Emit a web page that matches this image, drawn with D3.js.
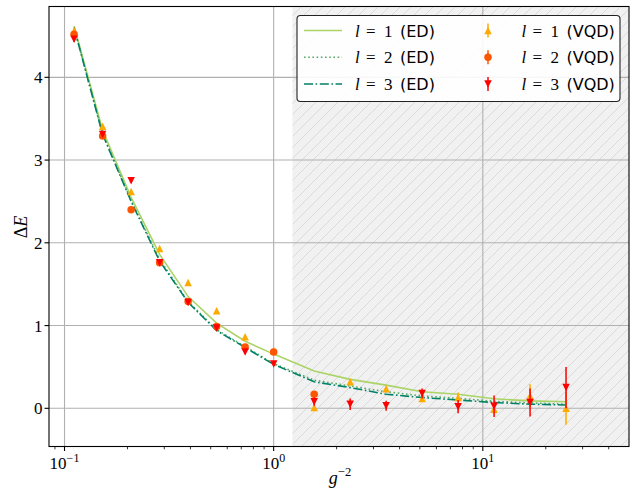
<!DOCTYPE html>
<html>
<head>
<meta charset="utf-8">
<script src="https://cdn.jsdelivr.net/npm/d3@7"></script>
<style>
  body { margin: 0; background: #fff; }
  svg text { fill: #000; }
</style>
</head>
<body>
<svg id="chart" width="637" height="490"></svg>
<script>
// Coupling values, x = g^-2 (two geometric sweeps)
const gInv2 = [0.1111, 0.1521, 0.2082, 0.2849, 0.3900, 0.5337, 0.7305, 1.0,
               1.5625, 2.3219, 3.4503, 5.1271, 7.6190, 11.322, 16.825, 25.0];

// Exact diagonalisation gaps
const edL1 = [4.62, 3.36, 2.55, 1.86, 1.35, 1.03, 0.81, 0.655,
              0.45, 0.35, 0.28, 0.20, 0.17, 0.115, 0.09, 0.08];
const edL2 = [4.60, 3.32, 2.51, 1.80, 1.29, 0.95, 0.745, 0.54,
              0.34, 0.27, 0.20, 0.15, 0.12, 0.085, 0.065, 0.05];
const edL3 = [4.60, 3.31, 2.50, 1.78, 1.28, 0.94, 0.735, 0.53,
              0.32, 0.25, 0.17, 0.13, 0.10, 0.07, 0.05, 0.04];

// Variational quantum deflation gaps and their uncertainties
const vqdL1 = [4.56, 3.41, 2.62, 1.93, 1.52, 1.18, 0.865, 0.70,
               0.01, 0.32, 0.235, 0.12, 0.13, -0.01, 0.15, 0.0];
const vqdL1Err = [0.04, 0.02, 0.02, 0.02, 0.02, 0.02, 0.02, 0.02,
                  0.03, 0.03, 0.03, 0.04, 0.06, 0.06, 0.14, 0.20];
const vqdL2 = [4.52, 3.29, 2.40, 1.76, 1.29, 0.99, 0.74, 0.68, 0.17];
const vqdL2Err = [0.02, 0.02, 0.02, 0.02, 0.02, 0.02, 0.02, 0.02, 0.03];
const vqdL3 = [4.46, 3.31, 2.75, 1.76, 1.28, 0.97, 0.68, 0.535,
               0.08, 0.05, 0.03, 0.18, 0.02, 0.025, 0.07, 0.25];
const vqdL3Err = [0.03, 0.02, 0.02, 0.02, 0.02, 0.02, 0.02, 0.02,
                  0.05, 0.07, 0.06, 0.06, 0.08, 0.13, 0.17, 0.25];

// Start of the shaded strong-coupling region
const shadeStart = 1.23;

const yTicks = [0, 1, 2, 3, 4];
const xMajor = [0.1, 1, 10];
const xMajorExp = ["\u22121", "0", "1"];

const legendEd = ["1", "2", "3"];

const svg = d3.select("#chart");
const pLeft = 49, pRight = 629, pTop = 6.5, pBottom = 446.5;

const x = d3.scaleLog().domain([0.0843, 50]).range([pLeft, pRight]);
const y = d3.scaleLinear().domain([-0.4616, 4.856]).range([pBottom, pTop]);

const SERIF = "'Liberation Serif', 'DejaVu Serif', serif";
const SANS = "'DejaVu Sans', 'Liberation Sans', sans-serif";

const colors = {
  ed1: "#aad466", ed2: "#55aa66", ed3: "#008066",
  v1: "#ffaa00", v2: "#ff5500", v3: "#ff0000"
};

// hatch pattern for the shaded band
const defs = svg.append("defs");
const pat = defs.append("pattern").attr("id", "hatch")
  .attr("patternUnits", "userSpaceOnUse").attr("width", 11).attr("height", 11);
pat.append("rect").attr("width", 11).attr("height", 11).attr("fill", "#f1f1f1");
pat.append("path")
  .attr("d", "M-1,1 L1,-1 M0,11 L11,0 M10,12 L12,10")
  .attr("stroke", "#d6d6d6").attr("stroke-width", 0.8);
defs.append("clipPath").attr("id", "plotclip").append("rect")
  .attr("x", pLeft).attr("y", pTop).attr("width", pRight - pLeft).attr("height", pBottom - pTop);

const plot = svg.append("g").attr("clip-path", "url(#plotclip)");

plot.append("rect")
  .attr("x", x(shadeStart)).attr("y", pTop)
  .attr("width", pRight - x(shadeStart)).attr("height", pBottom - pTop)
  .attr("fill", "url(#hatch)");

// grid
plot.selectAll(".gx").data(xMajor).join("line")
  .attr("x1", d => x(d)).attr("x2", d => x(d))
  .attr("y1", pTop).attr("y2", pBottom)
  .attr("stroke", "#b0b0b0").attr("stroke-width", 1.1);
plot.selectAll(".gy").data(yTicks).join("line")
  .attr("y1", d => y(d)).attr("y2", d => y(d))
  .attr("x1", pLeft).attr("x2", pRight)
  .attr("stroke", "#b0b0b0").attr("stroke-width", 1.1);

// ED curves
const line = d3.line().x((d, i) => x(gInv2[i])).y(d => y(d));
const edSeries = [
  { v: edL1, c: colors.ed1, dash: null },
  { v: edL2, c: colors.ed2, dash: "1.6,2.6" },
  { v: edL3, c: colors.ed3, dash: "9,2.6,1.6,2.6" }
];
edSeries.forEach(s => {
  plot.append("path").datum(s.v).attr("d", line)
    .attr("fill", "none").attr("stroke", s.c).attr("stroke-width", 1.6)
    .attr("stroke-dasharray", s.dash);
});

// marker shapes
const MS = 7.5;
function triUp(g, cx, cy, c) {
  const h = MS / 2;
  g.append("path").attr("d", `M${cx},${cy - h}L${cx - h},${cy + h}L${cx + h},${cy + h}Z`).attr("fill", c);
}
function triDown(g, cx, cy, c) {
  const h = MS / 2;
  g.append("path").attr("d", `M${cx},${cy + h}L${cx - h},${cy - h}L${cx + h},${cy - h}Z`).attr("fill", c);
}
function circ(g, cx, cy, c) {
  g.append("circle").attr("cx", cx).attr("cy", cy).attr("r", MS / 2).attr("fill", c);
}

const vqdSeries = [
  { v: vqdL1, e: vqdL1Err, c: colors.v1, m: triUp },
  { v: vqdL2, e: vqdL2Err, c: colors.v2, m: circ },
  { v: vqdL3, e: vqdL3Err, c: colors.v3, m: triDown }
];
vqdSeries.forEach(s => {
  const g = plot.append("g");
  g.selectAll("line").data(s.v).join("line")
    .attr("x1", (d, i) => x(gInv2[i])).attr("x2", (d, i) => x(gInv2[i]))
    .attr("y1", (d, i) => y(d - s.e[i])).attr("y2", (d, i) => y(d + s.e[i]))
    .attr("stroke", s.c).attr("stroke-width", 1.5);
  s.v.forEach((d, i) => s.m(g, x(gInv2[i]), y(d), s.c));
});

// axes frame
svg.append("rect").attr("x", pLeft).attr("y", pTop)
  .attr("width", pRight - pLeft).attr("height", pBottom - pTop)
  .attr("fill", "none").attr("stroke", "#000").attr("stroke-width", 1.1);

// y ticks
yTicks.forEach(t => {
  svg.append("line").attr("x1", pLeft - 4.5).attr("x2", pLeft)
    .attr("y1", y(t)).attr("y2", y(t)).attr("stroke", "#000").attr("stroke-width", 1.1);
  svg.append("text").attr("x", pLeft - 6.5).attr("y", y(t) + 6)
    .attr("text-anchor", "end").attr("font-family", SERIF).attr("font-size", 17)
    .text(t);
});

// x ticks (major + minor)
const minor = [];
[0.01, 0.1, 1, 10].forEach(dec => {
  for (let k = 2; k <= 9; k++) {
    const v = k * dec;
    if (v > x.domain()[0] && v < x.domain()[1]) minor.push(v);
  }
});
minor.forEach(v => {
  svg.append("line").attr("x1", x(v)).attr("x2", x(v))
    .attr("y1", pBottom).attr("y2", pBottom + 2.8).attr("stroke", "#000").attr("stroke-width", 0.8);
});
xMajor.forEach((v, i) => {
  svg.append("line").attr("x1", x(v)).attr("x2", x(v))
    .attr("y1", pBottom).attr("y2", pBottom + 4.5).attr("stroke", "#000").attr("stroke-width", 1.1);
  const t = svg.append("text").attr("x", x(v)).attr("y", pBottom + 22)
    .attr("text-anchor", "middle").attr("font-family", SERIF).attr("font-size", 17);
  t.append("tspan").text("10");
  t.append("tspan").attr("dy", -7).attr("font-size", 12).text(xMajorExp[i]);
});

// axis labels
const xl = svg.append("text").attr("x", 340).attr("y", 484)
  .attr("text-anchor", "middle").attr("font-family", SERIF).attr("font-size", 18);
xl.append("tspan").attr("font-style", "italic").text("g");
xl.append("tspan").attr("dy", -8).attr("font-size", 12.5).text("\u22122");

const yl = svg.append("text").attr("transform", "translate(27,227) rotate(-90)")
  .attr("text-anchor", "middle").attr("font-family", SERIF).attr("font-size", 18);
yl.append("tspan").text("\u0394");
yl.append("tspan").attr("font-style", "italic").text("E");

// legend
const lg = svg.append("g");
lg.append("rect").attr("x", 297).attr("y", 15.5).attr("width", 323).attr("height", 86)
  .attr("rx", 3.5).attr("fill", "#fff").attr("fill-opacity", 0.9)
  .attr("stroke", "#222").attr("stroke-width", 1.1);
const rowY = [30.5, 57.3, 84];
function legendLabel(x0, yy, num, tag) {
  const t = lg.append("text").attr("y", yy + 6).attr("font-size", 17);
  t.append("tspan").attr("x", x0).attr("font-family", SERIF).attr("font-style", "italic").text("l");
  t.append("tspan").attr("x", x0 + 11).attr("font-family", SERIF).text("=");
  t.append("tspan").attr("x", x0 + 29).attr("font-family", SERIF).text(num);
  t.append("tspan").attr("x", x0 + 45).attr("font-family", SANS).attr("font-size", 16).text(tag);
}
edSeries.forEach((s, i) => {
  lg.append("line").attr("x1", 304).attr("x2", 342).attr("y1", rowY[i]).attr("y2", rowY[i])
    .attr("stroke", s.c).attr("stroke-width", 1.6).attr("stroke-dasharray", s.dash);
  legendLabel(355, rowY[i], legendEd[i], "(ED)");
});
vqdSeries.forEach((s, i) => {
  const g = lg.append("g");
  g.append("line").attr("x1", 488).attr("x2", 488).attr("y1", rowY[i] - 7).attr("y2", rowY[i] + 7)
    .attr("stroke", s.c).attr("stroke-width", 1.5);
  s.m(g, 488, rowY[i], s.c);
  legendLabel(521.5, rowY[i], legendEd[i], "(VQD)");
});
</script>
</body>
</html>
